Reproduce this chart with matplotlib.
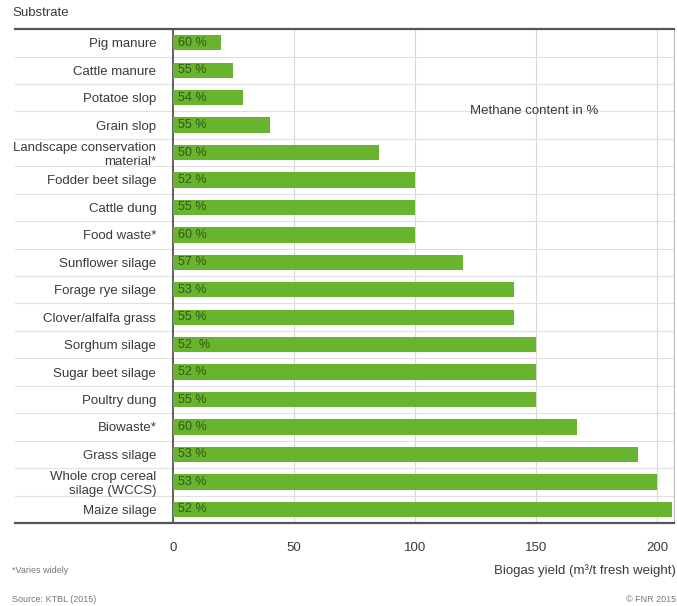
import matplotlib.pyplot as plt
from matplotlib.lines import Line2D

plt.rcParams['font.family'] = ['Liberation Sans', 'DejaVu Sans']

substrates = [
    "Pig manure", "Cattle manure", "Potatoe slop", "Grain slop",
    "Landscape conservation\nmaterial*", "Fodder beet silage", "Cattle dung",
    "Food waste*", "Sunflower silage", "Forage rye silage",
    "Clover/alfalfa grass", "Sorghum silage", "Sugar beet silage",
    "Poultry dung", "Biowaste*", "Grass silage",
    "Whole crop cereal\nsilage (WCCS)", "Maize silage",
]
biogas_yield = [20, 25, 29, 40, 85, 100, 100, 100, 120, 141, 141,
                150, 150, 150, 167, 192, 200, 206]
methane_pct = ["60 %", "55 %", "54 %", "55 %", "50 %", "52 %", "55 %",
               "60 %", "57 %", "53 %", "55 %", "52  %", "52 %", "55 %",
               "60 %", "53 %", "53 %", "52 %"]
xticks = [0, 50, 100, 150, 200]

green = "#69b42e"
text_col = "#3a3a3a"

fig = plt.figure(figsize=(6.77, 6.06), dpi=100)
ax = fig.add_axes([0.2555, 0.137, 0.74, 0.815])

n = len(substrates)
ypos = list(range(n))
ax.barh(ypos, biogas_yield, height=0.56, color=green, zorder=3)
for y, lab in zip(ypos, methane_pct):
    ax.text(2, y, lab, va="center", ha="left", fontsize=9,
            color="#2f5a12", zorder=4)

ax.set_ylim(n - 0.5, -0.5)
ax.set_xlim(0, 207)
ax.set_yticks(ypos)
ax.set_yticklabels(substrates, fontsize=9.5, color=text_col, linespacing=1.2)
ax.set_xticks(xticks)
ax.set_xticklabels([str(t) for t in xticks], fontsize=9.5, color=text_col)
ax.tick_params(axis="both", length=0)
ax.tick_params(axis="y", pad=12)
ax.tick_params(axis="x", pad=14)

for x in xticks[1:]:
    ax.axvline(x, color="#d8d8d8", lw=0.8, zorder=1)

for s in ["top", "bottom"]:
    ax.spines[s].set_visible(False)
ax.spines["left"].set_color("#444444")
ax.spines["left"].set_linewidth(1.2)
ax.spines["right"].set_color("#bbbbbb")
ax.spines["right"].set_linewidth(0.8)

# row separators and heavy rules running under the category labels
ytrans = ax.get_yaxis_transform()
x0 = -0.316
for b in range(1, n):
    ax.add_line(Line2D([x0, 1], [b - 0.5, b - 0.5], transform=ytrans,
                       color="#e0e0e0", lw=0.8, clip_on=False, zorder=1))
for b in [-0.5, n - 0.5]:
    ax.add_line(Line2D([x0, 1], [b, b], transform=ytrans,
                       color="#555555", lw=1.6, clip_on=False, zorder=5))

ax.text(0.593, 2.5, "Methane content in %", transform=ytrans,
        fontsize=9.5, color=text_col, va="center", ha="left")

fig.text(0.018, 0.978, "Substrate", fontsize=9.5, color=text_col,
         ha="left", va="center")
fig.text(0.999, 0.058, "Biogas yield (m³/t fresh weight)", fontsize=9.5,
         color=text_col, ha="right", va="center")
fig.text(0.018, 0.058, "*Varies widely", fontsize=6.5, color="#777777",
         ha="left", va="center")
fig.text(0.018, 0.01, "Source: KTBL (2015)", fontsize=6.5, color="#777777",
         ha="left", va="center")
fig.text(0.999, 0.01, "© FNR 2015", fontsize=6.5, color="#777777",
         ha="right", va="center")

fig.savefig("out.png", dpi=100)
